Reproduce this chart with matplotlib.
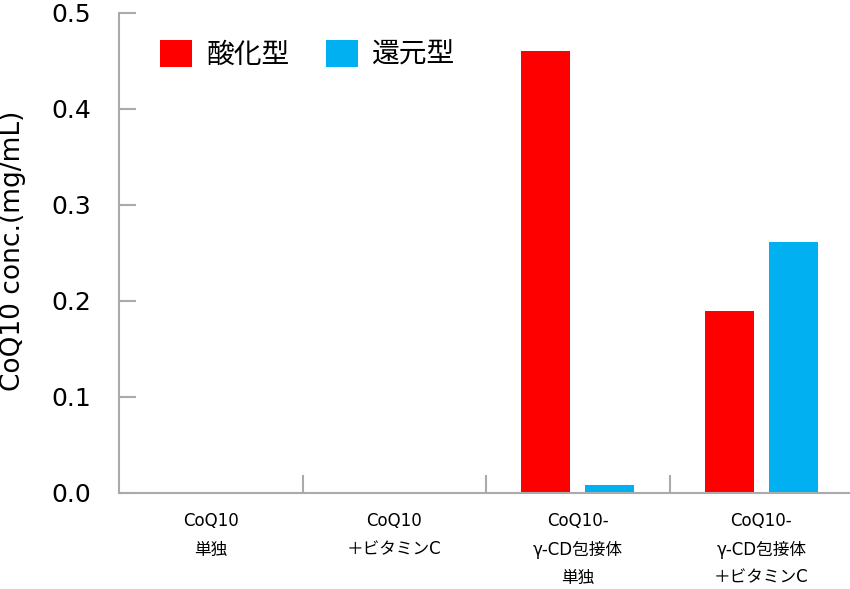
import numpy as np
import matplotlib.pyplot as plt

plt.rcParams['font.family'] = ['DejaVu Sans', 'Noto Sans CJK JP']
jp = ['Noto Sans CJK JP', 'DejaVu Sans']

groups = ['CoQ10\n単独', 'CoQ10\n＋ビタミンC',
          'CoQ10-\nγ-CD包接体\n単独', 'CoQ10-\nγ-CD包接体\n＋ビタミンC']
oxidized = [0.0, 0.0, 0.46, 0.19]   # 酸化型
reduced = [0.0, 0.0, 0.008, 0.261]  # 還元型
yticks = [0.0, 0.1, 0.2, 0.3, 0.4, 0.5]

red = '#ff0000'
blue = '#00b0f0'
gray = '#aaaaaa'

fig = plt.figure(figsize=(8.5, 5.89), dpi=100)
ax = fig.add_axes([119 / 850, 1 - 493 / 589, 734 / 850, 480 / 589])

x = np.arange(len(groups))
off = 0.174
w = 0.267
ax.bar(x - off, oxidized, w, color=red, label='酸化型')
ax.bar(x + off, reduced, w, color=blue, label='還元型')

ax.set_xlim(-0.5, 3.5)
ax.set_ylim(0, 0.5)
ax.set_yticks(yticks)
ax.set_yticklabels([f'{v:.1f}' for v in yticks], fontsize=18)
ax.set_xticks(x)
ax.set_xticklabels(groups, fontsize=12, linespacing=1.72, va='top')
ax.set_xticks([0.5, 1.5, 2.5], minor=True)

ax.tick_params(axis='y', direction='in', length=12.5, width=1.5, color=gray, pad=20)
ax.tick_params(axis='x', which='major', length=0, pad=14)
ax.tick_params(axis='x', which='minor', direction='in', length=13, width=1.5, color=gray)

for s in ['top', 'right']:
    ax.spines[s].set_visible(False)
for s in ['left', 'bottom']:
    ax.spines[s].set_color(gray)
    ax.spines[s].set_linewidth(1.5)

ax.set_ylabel('CoQ10 conc.(mg/mL)', fontsize=19)
ax.yaxis.set_label_coords(-0.127, 0.505)

ax.legend(loc='upper left', bbox_to_anchor=(0.03, 0.985), ncol=2, frameon=False,
          prop={'family': jp, 'size': 20}, handlelength=1.15, handleheight=1.15,
          handletextpad=0.5, columnspacing=1.33, borderaxespad=0.3)

fig.savefig('out.png', dpi=100)
